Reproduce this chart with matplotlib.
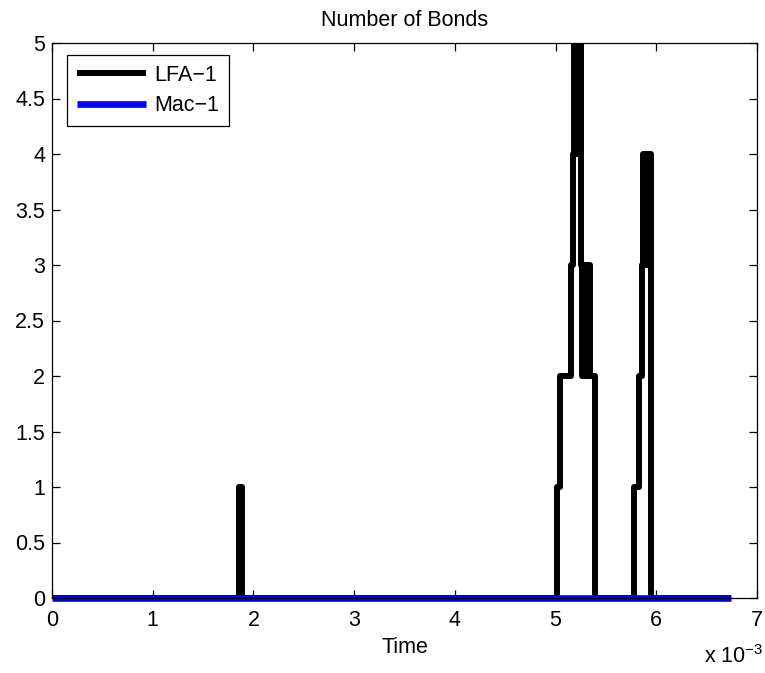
import matplotlib.pyplot as plt
from matplotlib.ticker import FuncFormatter

plt.rcParams['font.family'] = ['Liberation Sans', 'DejaVu Sans']
plt.rcParams['mathtext.fontset'] = 'custom'
plt.rcParams['mathtext.rm'] = 'Liberation Sans'

# time in units of 1e-3
lfa_time = [0.0, 1.853, 1.886,
            5.018, 5.045, 5.149, 5.172, 5.182, 5.192, 5.202, 5.212, 5.222,
            5.232, 5.242, 5.255, 5.262, 5.272, 5.282, 5.292, 5.302, 5.312,
            5.322, 5.332, 5.342, 5.388,
            5.779, 5.825, 5.855, 5.868, 5.885, 5.893, 5.905, 5.913, 5.925,
            5.933, 5.943, 5.950, 6.74]
lfa_bonds = [0, 1, 0,
             1, 2, 3, 4, 5, 4, 5, 4, 5,
             4, 5, 3, 2, 3, 2, 3, 2, 3,
             2, 3, 2, 0,
             1, 2, 3, 4, 3, 4, 3, 4, 3,
             4, 3, 0, 0]

mac_time = [0.0, 6.74]
mac_bonds = [0, 0]

x_ticks = [0, 1, 2, 3, 4, 5, 6, 7]
y_ticks = [0, 0.5, 1, 1.5, 2, 2.5, 3, 3.5, 4, 4.5, 5]

fs = 15.5
fig = plt.figure(figsize=(7.65, 6.73), dpi=100)
ax = fig.add_axes([52 / 765, 1 - 598 / 673, 705 / 765, 555 / 673])

ax.plot(lfa_time, lfa_bonds, color='black', lw=4.3, drawstyle='steps-post',
        solid_capstyle='butt', label='LFA\u22121')
ax.plot(mac_time, mac_bonds, color='#0000ff', lw=4.8, clip_on=False,
        solid_capstyle='butt', label='Mac\u22121')

ax.set_xlim(0, 7)
ax.set_ylim(0, 5)
ax.set_xticks(x_ticks)
ax.set_yticks(y_ticks)
ax.yaxis.set_major_formatter(FuncFormatter(lambda v, p: f'{v:g}'))
ax.tick_params(direction='in', top=True, right=True, length=6, width=0.9, labelsize=fs)
ax.tick_params(axis='x', pad=9)
ax.tick_params(axis='y', pad=5)
for s in ax.spines.values():
    s.set_linewidth(0.9)

ax.set_title('Number of Bonds', fontsize=fs, pad=12)
ax.set_xlabel('Time', fontsize=fs, labelpad=4)
fig.text(704 / 765, 1 - 663 / 673, 'x 10$^{-3}$', fontsize=fs, va='baseline', ha='left')

leg = ax.legend(loc='upper left', bbox_to_anchor=(15 / 705, 1 - 12 / 555), borderaxespad=0,
                fontsize=fs, handlelength=3.2, handletextpad=0.4, labelspacing=0.45,
                borderpad=0.45, fancybox=False, framealpha=1, edgecolor='black')
leg.get_frame().set_linewidth(0.9)

fig.savefig('out.png', dpi=100)
